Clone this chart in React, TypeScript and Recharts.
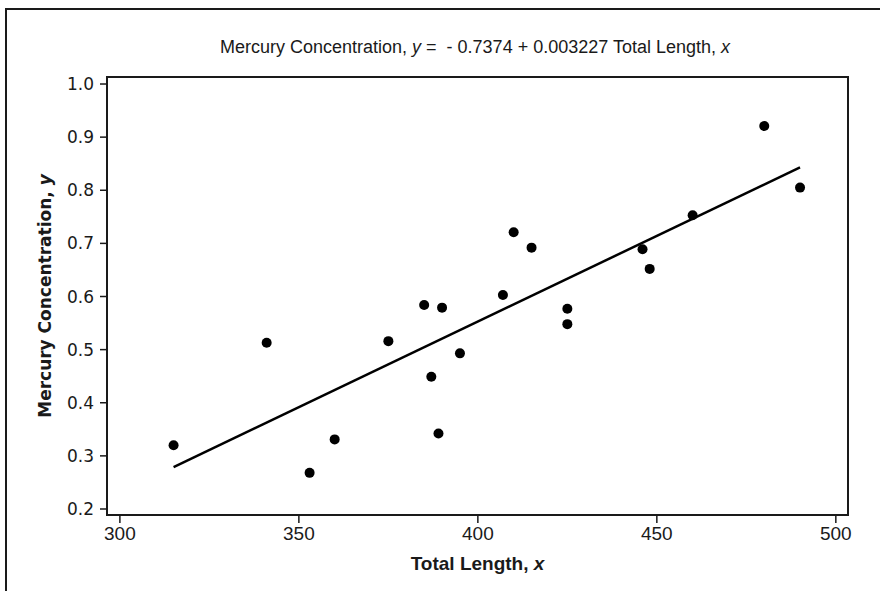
import { ComposedChart, Scatter, Line, XAxis, YAxis, ReferenceArea } from 'recharts';

// fish data: total length (x) and mercury concentration (y)
const lengths = [315, 341, 353, 360, 375, 385, 387, 389, 390, 395, 407, 410, 415, 425, 425, 446, 448, 460, 480, 490];
const mercury = [0.32, 0.513, 0.268, 0.331, 0.516, 0.584, 0.449, 0.342, 0.579, 0.493, 0.603, 0.721, 0.692, 0.577, 0.548, 0.689, 0.652, 0.753, 0.921, 0.805];

// fitted line end points
const fitX = [315, 490];
const fitY = [0.279, 0.843];

const xTicks = [300, 350, 400, 450, 500];
const yTicks = [0.2, 0.3, 0.4, 0.5, 0.6, 0.7, 0.8, 0.9, 1.0];
const xDomain: [number, number] = [296.4, 503.4];
const yDomain: [number, number] = [0.1887, 1.0132];

const points = lengths.map((x, i) => ({ x, y: mercury[i] }));
const fitLine = fitX.map((x, i) => ({ x, y: fitY[i] }));

const ink = '#1a1a1a';

const Dot = (props: any) => <circle cx={props.cx} cy={props.cy} r={5} fill="#000" />;

const XTitle = (props: any) => {
    const { x, y, width } = props.viewBox;
    return (
        <text x={x + width / 2} y={y + 55} textAnchor="middle" fontFamily="'Liberation Sans', Arial, sans-serif"
            fontWeight="bold" fontSize={19} fill={ink}>
            Total Length, <tspan fontStyle="italic">x</tspan>
        </text>
    );
};

const YTitle = (props: any) => {
    const { y, height } = props.viewBox;
    const cx = 51;
    const cy = y + height / 2;
    return (
        <text x={cx} y={cy} textAnchor="middle" transform={`rotate(-90 ${cx} ${cy})`}
            fontFamily="'DejaVu Sans', Verdana, sans-serif" fontWeight="bold" fontSize={17} fill={ink}>
            Mercury Concentration, <tspan fontStyle="italic">y</tspan>
        </text>
    );
};

export default function App() {
    return (
        <div style={{ position: 'absolute', left: 0, top: 0, width: 880, height: 591, background: '#fff' }}>
            <div style={{ position: 'absolute', left: 5, top: 8, right: 0, bottom: 0, borderTop: `2px solid ${ink}`, borderLeft: `2px solid ${ink}` }} />
            <div style={{
                position: 'absolute', left: 0, width: 950, top: 37, textAlign: 'center',
                fontFamily: "'Liberation Sans', Arial, sans-serif", fontSize: 18, color: ink, whiteSpace: 'pre'
            }}>
                Mercury Concentration, <i>y</i> =  - 0.7374 + 0.003227 Total Length, <i>x</i>
            </div>
            <ComposedChart width={880} height={591} margin={{ top: 77, right: 32, left: 43, bottom: 26 }}
                style={{ position: 'absolute', left: 0, top: 0 }}>
                <XAxis
                    dataKey="x"
                    type="number"
                    domain={xDomain}
                    ticks={xTicks}
                    allowDataOverflow
                    axisLine={false}
                    tickLine={{ stroke: ink, strokeWidth: 1.5 }}
                    tickSize={8}
                    tickMargin={4}
                    height={50}
                    tick={{ fill: ink, fontSize: 19, fontFamily: "'Liberation Sans', Arial, sans-serif" }}
                    label={<XTitle />}
                />
                <YAxis
                    dataKey="y"
                    type="number"
                    domain={yDomain}
                    ticks={yTicks}
                    allowDataOverflow
                    axisLine={false}
                    tickLine={{ stroke: ink, strokeWidth: 1.5 }}
                    tickSize={7}
                    tickMargin={6}
                    width={64}
                    tickFormatter={(v) => v.toFixed(1)}
                    tick={{ fill: ink, fontSize: 17, fontFamily: "'DejaVu Sans', Verdana, sans-serif" }}
                    label={<YTitle />}
                />
                <ReferenceArea x1={xDomain[0]} x2={xDomain[1]} y1={yDomain[0]} y2={yDomain[1]}
                    fill="none" fillOpacity={0} stroke={ink} strokeWidth={2} strokeOpacity={1} />
                <Line data={fitLine} dataKey="y" type="linear" stroke="#000" strokeWidth={2.5} dot={false}
                    activeDot={false} isAnimationActive={false} />
                <Scatter data={points} dataKey="y" shape={<Dot />} isAnimationActive={false} />
            </ComposedChart>
        </div>
    );
}
